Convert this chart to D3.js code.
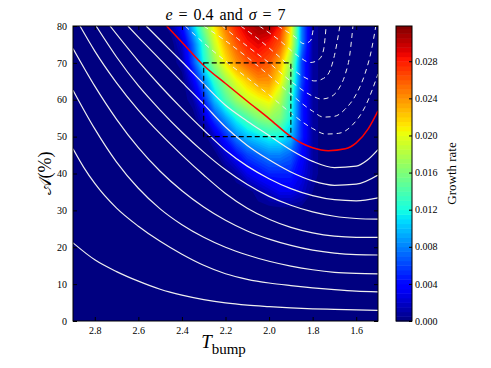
<!DOCTYPE html>
<html>
<head>
<meta charset="utf-8">
<script src="https://cdn.jsdelivr.net/npm/d3@7"></script>
<style>
body { margin: 0; background: #fff; }
text { font-family: "Liberation Serif", "DejaVu Serif", serif; fill: #000; }
</style>
</head>
<body>
<svg id="chart" width="491" height="368"></svg>
<script>
// growth rate: rows are A (%) from the top, columns are T_bump
var rateT = [2.45, 2.40, 2.35, 2.30, 2.25, 2.20, 2.15, 2.10, 2.05, 2.00, 1.95, 1.90, 1.85, 1.80, 1.75]
var rateA = [80, 75, 70, 65, 60, 55, 50, 45, 40, 35]
var rateRows = [
    [0.001, 0.004, 0.010, 0.016, 0.021, 0.025, 0.028, 0.030, 0.031, 0.031, 0.028, 0.021, 0.008, 0.001, 0],
    [0, 0.002, 0.007, 0.013, 0.019, 0.023, 0.026, 0.028, 0.029, 0.028, 0.026, 0.020, 0.008, 0.001, 0],
    [0, 0.001, 0.006, 0.012, 0.017, 0.021, 0.024, 0.026, 0.027, 0.026, 0.023, 0.017, 0.006, 0.001, 0],
    [0, 0, 0.003, 0.008, 0.013, 0.017, 0.020, 0.022, 0.024, 0.024, 0.021, 0.015, 0.006, 0.001, 0],
    [0, 0, 0.001, 0.005, 0.010, 0.014, 0.017, 0.019, 0.020, 0.021, 0.018, 0.013, 0.005, 0.001, 0],
    [0, 0, 0, 0.002, 0.006, 0.009, 0.012, 0.014, 0.016, 0.017, 0.016, 0.012, 0.005, 0.001, 0],
    [0, 0, 0, 0, 0.002, 0.005, 0.008, 0.010, 0.011, 0.012, 0.012, 0.010, 0.005, 0.001, 0],
    [0, 0, 0, 0, 0, 0.002, 0.004, 0.006, 0.007, 0.008, 0.008, 0.007, 0.004, 0.001, 0],
    [0, 0, 0, 0, 0, 0, 0.001, 0.003, 0.004, 0.005, 0.005, 0.005, 0.003, 0.001, 0],
    [0, 0, 0, 0, 0, 0, 0, 0, 0.001, 0.002, 0.003, 0.003, 0.002, 0.0005, 0]
]

// white contour lines, [T, A] pairs
var solidLines = [
    [[2.9, 21.2], [2.8, 16.6], [2.7, 13.4], [2.6, 10.8], [2.5, 8.6], [2.4, 7.0], [2.3, 5.8], [2.2, 4.9], [2.1, 4.3], [2.0, 3.9], [1.9, 3.55], [1.8, 3.3], [1.7, 3.15], [1.6, 3.0], [1.5, 2.9]],
    [[2.9, 46.7], [2.85, 41.6], [2.8, 37.3], [2.7, 30.6], [2.6, 25.7], [2.5, 21.6], [2.4, 18.1], [2.3, 15.1], [2.2, 12.8], [2.1, 11.3], [2.0, 10.3], [1.9, 9.6], [1.8, 9.0], [1.7, 8.5], [1.6, 8.1], [1.5, 7.9]],
    [[2.9, 62.6], [2.8, 52.1], [2.7, 43.1], [2.6, 36.0], [2.5, 30.4], [2.4, 26.1], [2.3, 22.7], [2.2, 20.0], [2.1, 17.9], [2.0, 16.2], [1.9, 14.9], [1.8, 13.9], [1.7, 13.2], [1.6, 12.9], [1.5, 12.8]],
    [[2.9, 73.9], [2.8, 63.7], [2.7, 54.7], [2.6, 47.0], [2.5, 40.6], [2.4, 35.3], [2.3, 30.9], [2.2, 27.3], [2.1, 24.4], [2.0, 22.2], [1.9, 20.5], [1.8, 19.2], [1.7, 18.4], [1.6, 18.0], [1.5, 17.9]],
    [[2.868, 80], [2.8, 73.2], [2.7, 64.6], [2.6, 57.2], [2.5, 50.8], [2.4, 45.0], [2.3, 39.6], [2.2, 34.6], [2.1, 30.6], [2.0, 27.6], [1.9, 25.4], [1.8, 23.9], [1.7, 23.0], [1.6, 22.7], [1.5, 22.7]],
    [[2.794, 80], [2.7, 71.6], [2.6, 63.8], [2.5, 57.2], [2.4, 51.2], [2.3, 45.8], [2.2, 41.0], [2.1, 37.0], [2.0, 33.8], [1.9, 31.4], [1.8, 29.6], [1.7, 28.4], [1.6, 27.8], [1.5, 27.6]],
    [[2.73, 80], [2.6, 70.5], [2.5, 63.8], [2.4, 57.6], [2.3, 51.8], [2.2, 46.3], [2.1, 42.0], [2.0, 38.6], [1.9, 35.9], [1.8, 34.0], [1.7, 32.9], [1.6, 32.6], [1.5, 33.4]],
    [[2.648, 80], [2.6, 77.0], [2.5, 70.9], [2.4, 64.8], [2.3, 58.8], [2.2, 52.6], [2.1, 47.6], [2.0, 43.7], [1.9, 40.4], [1.8, 38.0], [1.7, 36.8], [1.6, 37.1], [1.5, 39.6]],
    [[2.564, 80], [2.5, 76.2], [2.4, 70.3], [2.3, 64.3], [2.2, 58.5], [2.1, 54.2], [2.0, 50.3], [1.9, 46.4], [1.8, 43.3], [1.7, 41.6], [1.6, 42.0], [1.55, 43.6], [1.5, 46.5]]
]
var redLine = [[2.47, 80], [2.4, 75.6], [2.3, 69.3], [2.2, 64.4], [2.1, 59.6], [2.0, 54.9], [1.9, 50.0], [1.85, 48.2], [1.8, 47.0], [1.728, 46.2], [1.65, 46.7], [1.6, 48.3], [1.545, 52.1], [1.5, 57]]
var dashedLines = [
    [[2.385, 80], [2.3, 75.4], [2.2, 70.5], [2.1, 65.9], [2.0, 61.3], [1.9, 56.4], [1.8, 52.2], [1.74, 50.7], [1.68, 50.9], [1.62, 53], [1.56, 58], [1.5, 67]],
    [[2.30, 80], [2.2, 76], [2.1, 71.5], [2.0, 66.6], [1.9, 61.5], [1.8, 56.9], [1.75, 55.3], [1.7, 55.5], [1.65, 57.5], [1.6, 61.5], [1.56, 67], [1.53, 73.5], [1.51, 80]],
    [[2.215, 80], [2.1, 74.5], [2.0, 70], [1.9, 65], [1.8, 61], [1.76, 60.2], [1.72, 60.7], [1.68, 63], [1.65, 67], [1.63, 72], [1.615, 80]],
    [[2.13, 80], [2.05, 76.5], [1.95, 71.5], [1.85, 66.5], [1.79, 65.1], [1.75, 65.8], [1.72, 68], [1.7, 72], [1.675, 80]],
    [[2.045, 80], [1.95, 76], [1.87, 72], [1.81, 70.1], [1.77, 71], [1.75, 73.5], [1.738, 80]],
    [[1.96, 80], [1.88, 77], [1.84, 75.2], [1.81, 76], [1.795, 80]]
]
var boxT = [2.3, 1.9]
var boxA = [50, 70]

var xTicks = [2.8, 2.6, 2.4, 2.2, 2.0, 1.8, 1.6]
var yTicks = [0, 10, 20, 30, 40, 50, 60, 70, 80]
var barTicks = [0, 0.004, 0.008, 0.012, 0.016, 0.020, 0.024, 0.028]
var rateMax = 0.0318

var svg = d3.select("#chart")
var pLeft = 73, pRight = 378, pTop = 26, pBottom = 321

var x = d3.scaleLinear().domain([2.9, 1.5]).range([pLeft, pRight])
var y = d3.scaleLinear().domain([0, 80]).range([pBottom, pTop])

// matplotlib jet
var jr = d3.scaleLinear().domain([0, 0.35, 0.66, 0.89, 1]).range([0, 0, 1, 1, 0.5]).clamp(true)
var jg = d3.scaleLinear().domain([0, 0.125, 0.375, 0.64, 0.91, 1]).range([0, 0, 1, 1, 0, 0]).clamp(true)
var jb = d3.scaleLinear().domain([0, 0.11, 0.34, 0.65, 1]).range([0.5, 1, 1, 0, 0]).clamp(true)
var color = function (v) {
    var f = v / rateMax
    return d3.rgb(jr(f) * 255, jg(f) * 255, jb(f) * 255).toString()
}

svg.append("clipPath").attr("id", "plotclip")
    .append("rect").attr("x", pLeft).attr("y", pTop).attr("width", pRight - pLeft).attr("height", pBottom - pTop)

var plot = svg.append("g").attr("clip-path", "url(#plotclip)")
plot.append("rect").attr("x", pLeft).attr("y", pTop).attr("width", pRight - pLeft).attr("height", pBottom - pTop)
    .attr("fill", color(0))

// put the samples on a grid over the whole axes, zero where nothing was read
var gridT = d3.range(29).map(function (i) { return +(2.9 - i * 0.05).toFixed(2) })
var gridA = d3.range(17).map(function (j) { return 80 - j * 5 })
var values = []
gridA.forEach(function (a) {
    gridT.forEach(function (t) {
        var r = rateA.indexOf(a), c = rateT.indexOf(t)
        values.push(r >= 0 && c >= 0 ? rateRows[r][c] : 0)
    })
})

var step = 0.0005
var levels = d3.range(step, rateMax, step)
var shapes = d3.contours().size([gridT.length, gridA.length]).thresholds(levels)(values)
var ti = d3.scaleLinear().domain([0, gridT.length - 1]).range([gridT[0], gridT[gridT.length - 1]])
var ai = d3.scaleLinear().domain([0, gridA.length - 1]).range([gridA[0], gridA[gridA.length - 1]])
var proj = d3.geoTransform({
    point: function (px, py) { this.stream.point(x(ti(px - 0.5)), y(ai(py - 0.5))) }
})
plot.selectAll("path.heat")
    .data(shapes)
    .enter().append("path")
    .attr("class", "heat")
    .attr("d", d3.geoPath(proj))
    .attr("fill", function (d) { return color(d.value + step / 2) })

var line = d3.line()
    .x(function (d) { return x(d[0]) })
    .y(function (d) { return y(d[1]) })
    .curve(d3.curveMonotoneX)

plot.selectAll("path.solid")
    .data(solidLines)
    .enter().append("path")
    .attr("class", "solid")
    .attr("d", line)
    .attr("fill", "none")
    .attr("stroke", "#eeeeee")
    .attr("stroke-width", 1.2)

plot.selectAll("path.dashed")
    .data(dashedLines)
    .enter().append("path")
    .attr("class", "dashed")
    .attr("d", line)
    .attr("fill", "none")
    .attr("stroke", "#eeeeee")
    .attr("stroke-width", 1)
    .attr("stroke-dasharray", "5,4")

plot.append("path")
    .datum(redLine)
    .attr("d", line)
    .attr("fill", "none")
    .attr("stroke", "#ff0000")
    .attr("stroke-width", 1.5)

plot.append("rect")
    .attr("x", x(boxT[0])).attr("y", y(boxA[1]))
    .attr("width", x(boxT[1]) - x(boxT[0])).attr("height", y(boxA[0]) - y(boxA[1]))
    .attr("fill", "none")
    .attr("stroke", "#000")
    .attr("stroke-width", 1.1)
    .attr("stroke-dasharray", "5,3")

// axes, ticks pointing in on all four sides
var fs = "10px"
svg.append("g").attr("transform", "translate(0," + pBottom + ")")
    .call(d3.axisBottom(x).tickValues(xTicks).tickSize(-4).tickPadding(6).tickFormat(d3.format(".1f")))
svg.append("g").attr("transform", "translate(0," + pTop + ")")
    .call(d3.axisTop(x).tickValues(xTicks).tickSize(-4).tickFormat(""))
svg.append("g").attr("transform", "translate(" + pLeft + ",0)")
    .call(d3.axisLeft(y).tickValues(yTicks).tickSize(-4).tickPadding(6))
svg.append("g").attr("transform", "translate(" + pRight + ",0)")
    .call(d3.axisRight(y).tickValues(yTicks).tickSize(-4).tickFormat(""))
svg.selectAll(".domain").remove()
svg.selectAll(".tick line").attr("stroke", "#000")
svg.selectAll(".tick text").style("font-size", fs).style("font-family", "Liberation Serif, serif")

svg.append("rect").attr("x", pLeft).attr("y", pTop).attr("width", pRight - pLeft).attr("height", pBottom - pTop)
    .attr("fill", "none").attr("stroke", "#000").attr("stroke-width", 1)

// colour bar
var cb = d3.scaleLinear().domain([0, rateMax]).range([pBottom, pTop])
var cbx = 396, cbw = 16
var bands = d3.range(0, rateMax, step)
svg.selectAll("rect.band")
    .data(bands)
    .enter().append("rect")
    .attr("class", "band")
    .attr("x", cbx).attr("width", cbw)
    .attr("y", function (d) { return cb(Math.min(d + step, rateMax)) })
    .attr("height", function (d) { return cb(d) - cb(Math.min(d + step, rateMax)) + 0.5 })
    .attr("fill", function (d) { return color(d + step / 2) })
svg.append("rect").attr("x", cbx).attr("y", pTop).attr("width", cbw).attr("height", pBottom - pTop)
    .attr("fill", "none").attr("stroke", "#000").attr("stroke-width", 1)
svg.append("g").attr("transform", "translate(" + (cbx + cbw) + ",0)")
    .call(d3.axisRight(cb).tickValues(barTicks).tickSize(-3).tickPadding(3).tickFormat(d3.format(".3f")))
    .call(function (g) { g.select(".domain").remove() })
    .selectAll("text").style("font-size", fs).style("font-family", "Liberation Serif, serif")

// titles
var title = svg.append("text").attr("x", (pLeft + pRight) / 2).attr("y", 20)
    .attr("text-anchor", "middle").style("font-size", "16px").style("word-spacing", "2px")
title.append("tspan").attr("font-style", "italic").text("e")
title.append("tspan").text(" = 0.4 and ")
title.append("tspan").attr("font-style", "italic").text("σ")
title.append("tspan").text(" = 7")

var xl = svg.append("text").attr("x", (pLeft + pRight) / 2 - 2).attr("y", 348)
    .attr("text-anchor", "middle").style("font-size", "19px")
xl.append("tspan").attr("font-style", "italic").text("T")
xl.append("tspan").attr("dy", 6).style("font-size", "15px").text("bump")

svg.append("text")
    .attr("transform", "translate(51," + ((pTop + pBottom) / 2) + ") rotate(-90)")
    .attr("text-anchor", "middle").style("font-size", "18px")
    .text("𝒜(%)")

svg.append("text")
    .attr("transform", "translate(456," + ((pTop + pBottom) / 2) + ") rotate(-90)")
    .attr("text-anchor", "middle").style("font-size", "13px")
    .text("Growth rate")
</script>
</body>
</html>
